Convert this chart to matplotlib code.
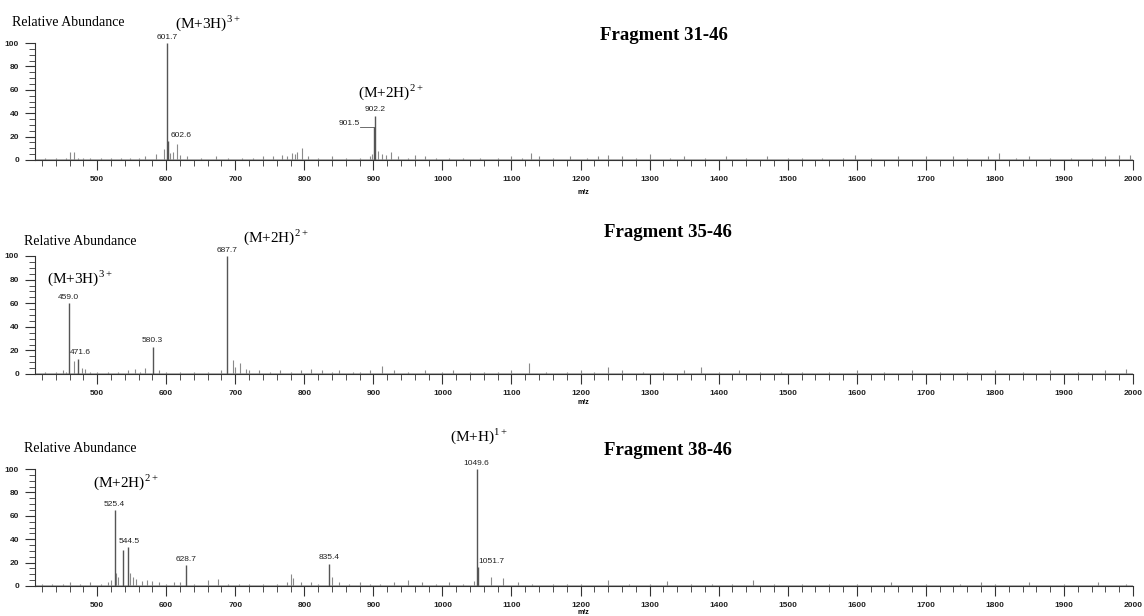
import matplotlib
matplotlib.use("Agg")
import matplotlib.pyplot as plt
from matplotlib.ticker import MultipleLocator

plt.rcParams['mathtext.fontset'] = 'custom'
plt.rcParams['mathtext.rm'] = 'Liberation Serif'

W, H = 1144, 616
SERIF = 'Liberation Serif'
SANS = 'Liberation Sans'
BASELINE = 0.8  # grey noise floor drawn along the axis

# panel 1 : fragment 31-46
p1_peaks_mz = [601.7, 602.6, 901.5, 902.2]
p1_peaks_int = [100, 16, 28, 38]
p1_noise_mz = [425, 440, 455, 460, 466, 472, 480, 490, 505, 520, 535, 548, 560, 570, 585, 597,
               606, 610, 616, 620, 630, 650, 672, 690, 710, 725, 740, 755, 768, 775, 782, 786,
               790, 796, 805, 820, 840, 860, 880, 895, 898, 906, 912, 918, 925, 935, 950, 960,
               975, 990, 1010, 1030, 1055, 1080, 1100, 1115, 1128, 1140, 1160, 1185, 1210, 1225,
               1240, 1260, 1280, 1300, 1330, 1350, 1380, 1410, 1440, 1470, 1500, 1520, 1550, 1580,
               1598, 1620, 1660, 1700, 1740, 1760, 1790, 1806, 1830, 1850, 1880, 1910, 1940, 1960,
               1980, 1995]
p1_noise_int = [1.5, 1.5, 2, 7, 7, 2, 2, 1.5, 1.5, 1.5, 2, 1.5, 2, 3, 5, 9,
                6, 7, 14, 4, 3, 2, 3, 2, 2, 2, 3, 3, 4, 3, 6, 5,
                7, 10, 3, 2, 3, 2, 2, 3, 5, 8, 5, 4, 7, 3, 2, 4,
                3, 2, 2, 2, 2, 2, 3, 2, 6, 3, 2, 3, 2, 3,
                4, 3, 2, 5, 2, 3, 2, 3, 2, 3, 2, 2, 2, 2,
                4, 2, 3, 3, 3, 2, 3, 6, 2, 3, 2, 2, 2, 3,
                4, 4]

# panel 2 : fragment 35-46
p2_peaks_mz = [459.0, 471.6, 580.3, 687.7]
p2_peaks_int = [60, 13, 23, 100]
p2_noise_mz = [425, 440, 450, 455, 466, 478, 482, 490, 500, 515, 530, 545, 555, 562, 570, 590,
               600, 620, 640, 660, 680, 697, 699, 707, 715, 720, 735, 750, 765, 780, 795, 810,
               825, 840, 850, 870, 880, 895, 912, 930, 950, 975, 1000, 1015, 1040, 1060, 1080,
               1100, 1125, 1150, 1180, 1200, 1220, 1240, 1260, 1290, 1320, 1350, 1375, 1400,
               1430, 1460, 1490, 1520, 1560, 1600, 1640, 1680, 1720, 1760, 1800, 1840, 1880,
               1920, 1960, 1990]
p2_noise_int = [1.5, 2, 3, 2, 11, 5, 4, 2, 1.5, 2, 1.5, 3, 4, 2, 5, 3,
                2, 2, 2, 2, 3, 12, 6, 9, 4, 3, 3, 2, 3, 2, 3, 4,
                3, 2, 3, 2, 2, 3, 7, 3, 2, 3, 2, 3, 2, 2, 2,
                3, 9, 2, 2, 3, 2, 6, 3, 2, 2, 3, 6, 2,
                3, 2, 2, 2, 2, 3, 2, 3, 2, 2, 3, 2, 3,
                2, 3, 4]

# panel 3 : fragment 38-46
p3_peaks_mz = [525.4, 538.0, 544.5, 628.7, 835.4, 1049.6, 1051.7]
p3_peaks_int = [65, 31, 33, 18, 19, 100, 16]
p3_noise_mz = [420, 435, 450, 460, 475, 490, 505, 515, 520, 528, 530, 548, 552, 556, 565, 572,
               580, 590, 600, 612, 620, 640, 660, 675, 690, 705, 720, 740, 760, 775, 780, 783,
               795, 810, 820, 840, 850, 865, 880, 895, 910, 930, 950, 970, 990, 1010, 1030, 1045,
               1070, 1088, 1110, 1130, 1160, 1180, 1200, 1240, 1270, 1300, 1325, 1360, 1390, 1420,
               1450, 1480, 1520, 1560, 1600, 1650, 1700, 1750, 1780, 1800, 1850, 1900, 1950, 1990]
p3_noise_int = [1.5, 2, 1.5, 3, 2, 3, 2, 3, 5, 11, 8, 11, 8, 6, 4, 5,
                4, 3, 2, 3, 3, 2, 5, 6, 2, 2, 2, 2, 2, 3, 10, 7,
                3, 3, 2, 8, 3, 2, 3, 2, 2, 3, 5, 3, 2, 3, 2, 4,
                8, 7, 3, 2, 2, 2, 2, 5, 2, 2, 4, 2, 2, 2,
                5, 2, 2, 2, 2, 3, 2, 2, 3, 2, 3, 2, 3, 2]

panels = [
    dict(peaks=(p1_peaks_mz, p1_peaks_int), noise=(p1_noise_mz, p1_noise_int),
         bottom=160, top=43, title="Fragment 31-46", title_pos=(600, 40),
         ra_pos=(12, 26), mz_y=192,
         ions=[(r"(M+3H)$^{\mathrm{3+}}$", 175, 28), (r"(M+2H)$^{\mathrm{2+}}$", 358, 97)],
         labels=[("601.7", 601.7, 102, 'center'), ("602.6", 606, 18, 'left'),
                 ("902.2", 902.2, 40, 'center'), ("901.5", 880, 28, 'right')]),
    dict(peaks=(p2_peaks_mz, p2_peaks_int), noise=(p2_noise_mz, p2_noise_int),
         bottom=374, top=256, title="Fragment 35-46", title_pos=(604, 237),
         ra_pos=(24, 245), mz_y=402,
         ions=[(r"(M+2H)$^{\mathrm{2+}}$", 243, 242), (r"(M+3H)$^{\mathrm{3+}}$", 47, 283)],
         labels=[("687.7", 687.7, 102, 'center'), ("459.0", 459.0, 62, 'center'),
                 ("471.6", 461, 15, 'left'), ("580.3", 580.3, 25, 'center')]),
    dict(peaks=(p3_peaks_mz, p3_peaks_int), noise=(p3_noise_mz, p3_noise_int),
         bottom=586, top=469, title="Fragment 38-46", title_pos=(604, 455),
         ra_pos=(24, 452), mz_y=613,
         ions=[(r"(M+2H)$^{\mathrm{2+}}$", 93, 487), (r"(M+H)$^{\mathrm{1+}}$", 450, 441)],
         labels=[("525.4", 525.4, 67, 'center'), ("544.5", 547, 35, 'center'),
                 ("628.7", 628.7, 20, 'center'), ("835.4", 835.4, 21, 'center'),
                 ("1049.6", 1049.6, 102, 'center'), ("1051.7", 1052, 18, 'left')]),
]

fig = plt.figure(figsize=(W / 100, H / 100), dpi=100)
fig.patch.set_facecolor('white')

x_left, x_right = 35, 1133
for p in panels:
    ax = fig.add_axes([x_left / W, 1 - p['bottom'] / H, (x_right - x_left) / W,
                       (p['bottom'] - p['top']) / H])
    ax.set_xlim(410, 2000)
    ax.set_ylim(0, 100)
    ax.axhline(BASELINE, color='#b0b0b0', lw=0.7, zorder=1)
    nm, ni = p['noise']
    ax.vlines(nm, 0, ni, color='#8a8a8a', lw=0.8)
    pm, pi = p['peaks']
    ax.vlines(pm, 0, pi, color='#555555', lw=1.0)

    for s in ['top', 'right']:
        ax.spines[s].set_visible(False)
    for s in ['left', 'bottom']:
        ax.spines[s].set_color('#333333')
        ax.spines[s].set_linewidth(0.8)
    ax.xaxis.set_major_locator(MultipleLocator(100))
    ax.xaxis.set_minor_locator(MultipleLocator(20))
    ax.yaxis.set_major_locator(MultipleLocator(20))
    ax.yaxis.set_minor_locator(MultipleLocator(5))
    ax.tick_params(which='major', length=7, width=0.8, color='#333333', labelsize=6, pad=4.5)
    ax.tick_params(which='minor', length=4, width=0.6, color='#333333')
    ax.set_xticks([t for t in range(500, 2001, 100)])
    for lab in ax.get_xticklabels() + ax.get_yticklabels():
        lab.set_fontfamily(SANS)
        lab.set_fontweight('bold')
        lab.set_color('#222222')

    for txt, x, y, ha in p['labels']:
        ax.text(x, y, txt, ha=ha, va='bottom', fontsize=6, family=SANS, color='#222222',
                clip_on=False)
        if txt == "901.5":
            ax.plot([x, 901.5], [y, y], color='#555555', lw=0.6, clip_on=False)

    fig.text(p['ra_pos'][0] / W, 1 - p['ra_pos'][1] / H, "Relative Abundance",
             family=SERIF, fontsize=10, va='baseline', ha='left')
    fig.text(p['title_pos'][0] / W, 1 - p['title_pos'][1] / H, p['title'],
             family=SERIF, fontsize=13.5, fontweight='bold', va='baseline', ha='left')
    for txt, x, y in p['ions']:
        fig.text(x / W, 1 - y / H, txt, family=SERIF, fontsize=11, va='baseline', ha='left')
    fig.text(583 / W, 1 - p['mz_y'] / H, "m/z", family=SANS, fontsize=5, ha='center',
             va='center', fontweight='bold')

fig.savefig("out.png", dpi=100, facecolor='white')
